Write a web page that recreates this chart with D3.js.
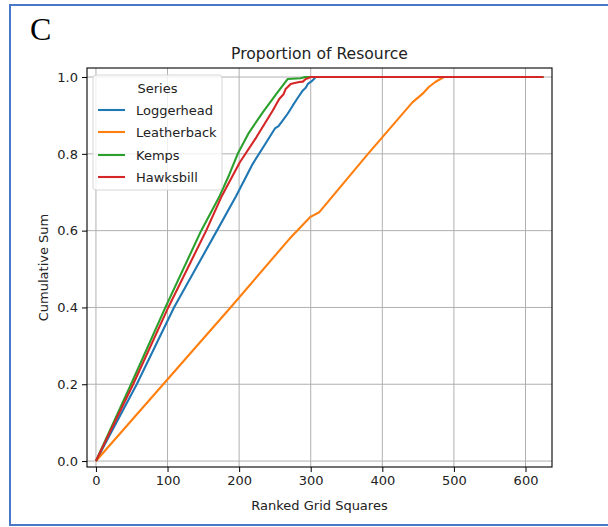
<!DOCTYPE html>
<html>
<head>
<meta charset="utf-8">
<script src="https://cdn.jsdelivr.net/npm/d3@7"></script>
<style>
  html, body { margin: 0; padding: 0; background: #fff; }
  svg { display: block; }
  text { font-family: "DejaVu Sans", sans-serif; fill: #222; }
</style>
</head>
<body>
<svg id="chart" width="608" height="527"></svg>
<script>
// Cumulative share of each species' resource over ranked grid squares: [rank, cumulative sum]
const loggerhead = [[0,0],[57,0.2],[109,0.4],[169,0.6],[196,0.691],[219,0.774],[238,0.83],[250,0.866],[255,0.872],[261,0.887],[268,0.905],[275,0.926],[282,0.946],[289,0.965],[293,0.972],[296,0.982],[302,0.99],[307,1.0],[625,1.0]];
const leatherback = [[0,0],[94,0.2],[188,0.4],[270,0.578],[299,0.635],[312,0.648],[380,0.80],[442,0.934],[456,0.956],[465,0.974],[474,0.987],[486,1.0],[625,1.0]];
const kemps = [[0,0],[49,0.2],[97,0.4],[147,0.6],[173,0.691],[186,0.745],[198,0.80],[214,0.856],[233,0.908],[252,0.956],[268,0.995],[286,0.997],[292,1.0],[625,1.0]];
const hawksbill = [[0,0],[52,0.2],[101,0.4],[154,0.6],[176,0.691],[201,0.778],[224,0.843],[247,0.913],[256,0.943],[262,0.955],[265,0.969],[272,0.982],[276,0.984],[284,0.987],[289,0.988],[293,0.995],[296,0.997],[300,1.0],[625,1.0]];

const seriesNames = ["Loggerhead", "Leatherback", "Kemps", "Hawksbill"];
const seriesData = [loggerhead, leatherback, kemps, hawksbill];
const seriesColors = ["#1f77b4", "#ff7f0e", "#2ca02c", "#d62728"];

const xTicks = [0, 100, 200, 300, 400, 500, 600];
const yTicks = [0, 0.2, 0.4, 0.6, 0.8, 1.0];

const panelLetter = "C";
const chartTitle = "Proportion of Resource";
const xLabel = "Ranked Grid Squares";
const yLabel = "Cumulative Sum";
const legendTitle = "Series";

const svg = d3.select("#chart");

// panel frame
svg.append("path")
  .attr("d", "M612,5 H10 V525 H612")
  .attr("fill", "none")
  .attr("stroke", "#4a78c8")
  .attr("stroke-width", 2);

svg.append("text")
  .attr("x", 30).attr("y", 40)
  .style("font-family", "'Liberation Serif', 'Times New Roman', serif")
  .style("font-size", "32px")
  .style("fill", "#000")
  .text(panelLetter);

const plot = { left: 87, right: 552, top: 68, bottom: 467 };

const x = d3.scaleLinear().domain([-12.5, 637]).range([plot.left, plot.right]);
const y = d3.scaleLinear().domain([-0.0155, 1.0235]).range([plot.bottom, plot.top]);

// grid
const grid = svg.append("g");
grid.selectAll("line.gx").data(xTicks).join("line")
  .attr("x1", d => x(d)).attr("x2", d => x(d))
  .attr("y1", plot.top).attr("y2", plot.bottom)
  .attr("stroke", "#b0b0b0").attr("stroke-width", 1);
grid.selectAll("line.gy").data(yTicks).join("line")
  .attr("x1", plot.left).attr("x2", plot.right)
  .attr("y1", d => y(d)).attr("y2", d => y(d))
  .attr("stroke", "#b0b0b0").attr("stroke-width", 1);

// series lines
const line = d3.line().x(d => x(d[0])).y(d => y(d[1]));
svg.append("g").selectAll("path").data(seriesData).join("path")
  .attr("d", d => line(d))
  .attr("fill", "none")
  .attr("stroke", (d, i) => seriesColors[i])
  .attr("stroke-width", 2.1)
  .attr("stroke-linejoin", "round")
  .attr("stroke-linecap", "butt");

// axes
const xAxis = d3.axisBottom(x).tickValues(xTicks).tickSize(5).tickPadding(4).tickFormat(d3.format("d"));
const yAxis = d3.axisLeft(y).tickValues(yTicks).tickSize(5).tickPadding(4).tickFormat(d3.format(".1f"));

const gx = svg.append("g").attr("transform", `translate(0,${plot.bottom})`).call(xAxis);
const gy = svg.append("g").attr("transform", `translate(${plot.left},0)`).call(yAxis);
[gx, gy].forEach(g => {
  g.select(".domain").remove();
  g.selectAll(".tick line").attr("stroke", "#000").attr("stroke-width", 1);
  g.selectAll(".tick text").style("font-size", "13px").style("font-family", "'DejaVu Sans', sans-serif").attr("fill", "#222");
});

// frame of the axes
svg.append("rect")
  .attr("x", plot.left).attr("y", plot.top)
  .attr("width", plot.right - plot.left).attr("height", plot.bottom - plot.top)
  .attr("fill", "none").attr("stroke", "#000").attr("stroke-width", 1.1);

// titles
svg.append("text")
  .attr("x", (plot.left + plot.right) / 2).attr("y", 59)
  .attr("text-anchor", "middle")
  .style("font-size", "15.6px")
  .text(chartTitle);

svg.append("text")
  .attr("x", (plot.left + plot.right) / 2).attr("y", 510)
  .attr("text-anchor", "middle")
  .style("font-size", "13px")
  .text(xLabel);

svg.append("text")
  .attr("transform", `translate(48,${(plot.top + plot.bottom) / 2}) rotate(-90)`)
  .attr("text-anchor", "middle")
  .style("font-size", "13px")
  .text(yLabel);

// legend
const legend = svg.append("g");
legend.append("rect")
  .attr("x", 93).attr("y", 75).attr("width", 129).attr("height", 115)
  .attr("rx", 3).attr("ry", 3)
  .attr("fill", "#fff").attr("fill-opacity", 0.8)
  .attr("stroke", "#d6d6d6").attr("stroke-width", 1);
legend.append("text")
  .attr("x", 157.5).attr("y", 93)
  .attr("text-anchor", "middle")
  .style("font-size", "13px")
  .text(legendTitle);
const rowY = [110, 132, 155, 177];
seriesNames.forEach((name, i) => {
  legend.append("line")
    .attr("x1", 98).attr("x2", 125)
    .attr("y1", rowY[i]).attr("y2", rowY[i])
    .attr("stroke", seriesColors[i]).attr("stroke-width", 2.1);
  legend.append("text")
    .attr("x", 136).attr("y", rowY[i] + 4.7)
    .style("font-size", "13px")
    .text(name);
});
</script>
</body>
</html>
